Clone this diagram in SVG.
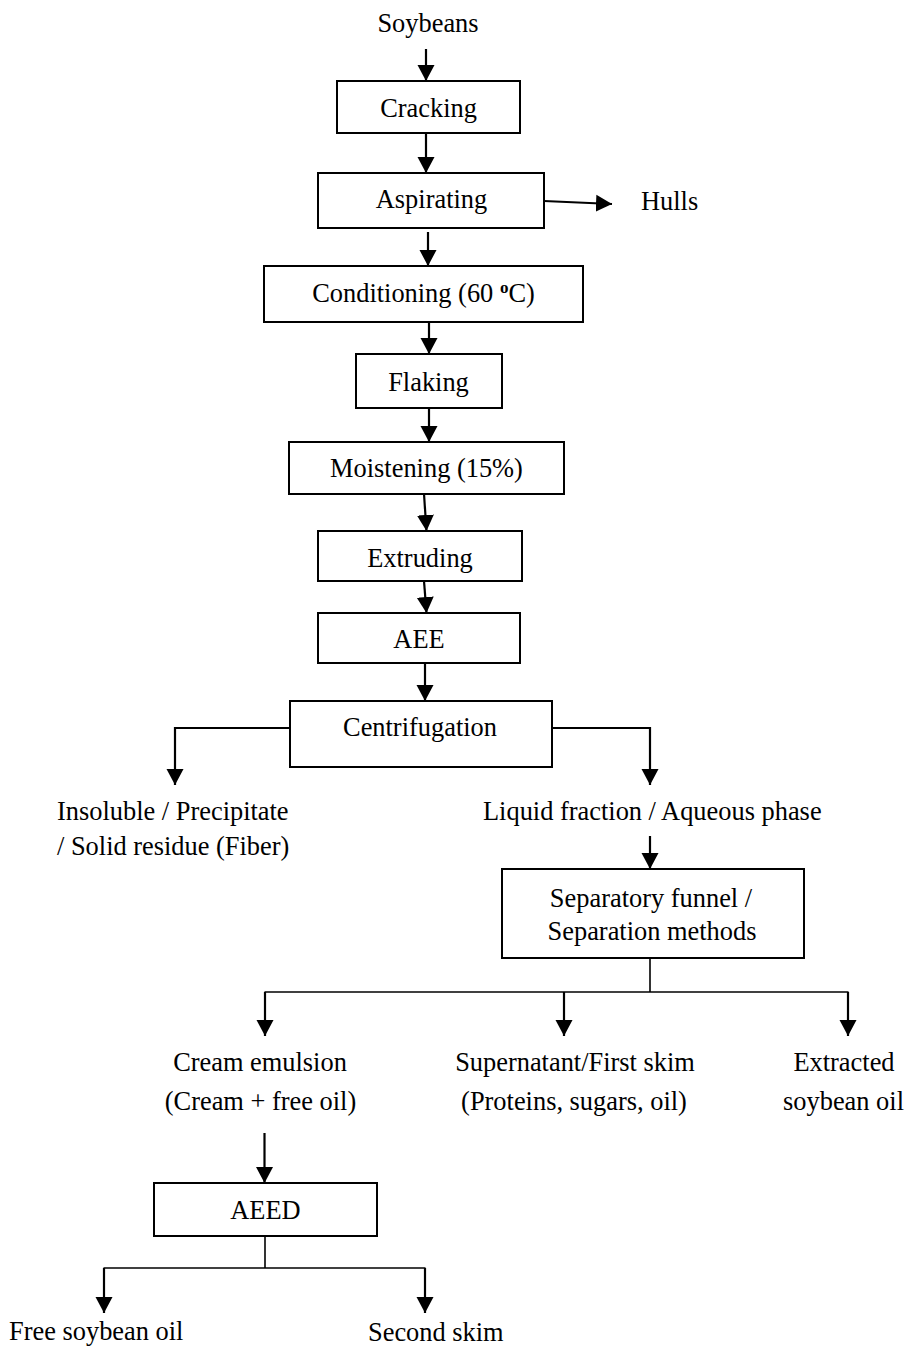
<svg xmlns="http://www.w3.org/2000/svg" width="914" height="1363" viewBox="0 0 914 1363">
<style>
  text { font-family: "Liberation Serif", "Times New Roman", serif; font-size: 26.4px; fill: #000; }
  .c { text-anchor: middle; }
  .box { fill: #fff; stroke: #000; stroke-width: 2; }
  .ln { fill: none; stroke: #000; stroke-width: 2.2; }
  .bus { fill: none; stroke: #000; stroke-width: 1.6; }
</style>
<defs>
  <marker id="ah" markerUnits="userSpaceOnUse" viewBox="0 0 18 18" refX="16" refY="9" markerWidth="18" markerHeight="18" orient="auto">
    <path d="M0,0.5 L16,9 L0,17.5 z" fill="#000"/>
  </marker>
</defs>
<rect width="914" height="1363" fill="#fff"/>

<g id="connectors">
  <line class="ln" x1="426" y1="49" x2="426" y2="81" marker-end="url(#ah)"/>
  <line class="ln" x1="426" y1="133" x2="426" y2="173" marker-end="url(#ah)"/>
  <line class="ln" x1="544" y1="201" x2="612" y2="204" marker-end="url(#ah)"/>
  <line class="ln" x1="428" y1="232" x2="428" y2="266" marker-end="url(#ah)"/>
  <line class="ln" x1="429" y1="322" x2="429" y2="354" marker-end="url(#ah)"/>
  <line class="ln" x1="429" y1="408" x2="429" y2="442" marker-end="url(#ah)"/>
  <line class="ln" x1="424" y1="494" x2="426.5" y2="531" marker-end="url(#ah)"/>
  <line class="ln" x1="424" y1="581" x2="426.5" y2="613" marker-end="url(#ah)"/>
  <line class="ln" x1="425" y1="663" x2="425" y2="701" marker-end="url(#ah)"/>
  <polyline class="ln" points="290,728 175,728 175,785" marker-end="url(#ah)"/>
  <polyline class="ln" points="552,728 650,728 650,785" marker-end="url(#ah)"/>
  <line class="ln" x1="650" y1="836" x2="650" y2="869" marker-end="url(#ah)"/>
  <line class="bus" x1="650" y1="958" x2="650" y2="992"/>
  <line class="bus" x1="264.5" y1="992" x2="848.5" y2="992"/>
  <line class="ln" x1="265" y1="992" x2="265" y2="1036" marker-end="url(#ah)"/>
  <line class="ln" x1="564" y1="992" x2="564" y2="1036" marker-end="url(#ah)"/>
  <line class="ln" x1="848" y1="992" x2="848" y2="1036" marker-end="url(#ah)"/>
  <line class="ln" x1="264.5" y1="1133" x2="264.5" y2="1183" marker-end="url(#ah)"/>
  <line class="bus" x1="265" y1="1236" x2="265" y2="1268"/>
  <line class="bus" x1="103.5" y1="1268" x2="425.5" y2="1268"/>
  <line class="ln" x1="104" y1="1268" x2="104" y2="1313" marker-end="url(#ah)"/>
  <line class="ln" x1="425" y1="1268" x2="425" y2="1313" marker-end="url(#ah)"/>
</g>

<g id="soybeans"><text class="c" x="428" y="32">Soybeans</text></g>
<g id="cracking"><rect class="box" x="337" y="81" width="183" height="52"/><text class="c" x="428.5" y="117">Cracking</text></g>
<g id="aspirating"><rect class="box" x="318" y="173" width="226" height="55"/><text class="c" x="431.5" y="208">Aspirating</text></g>
<g id="hulls"><text x="641" y="210">Hulls</text></g>
<g id="conditioning"><rect class="box" x="264" y="266" width="319" height="56"/><text class="c" x="423.5" y="302">Conditioning (60 <tspan font-size="17" font-weight="bold" dy="-9">o</tspan><tspan dy="9">C)</tspan></text></g>
<g id="flaking"><rect class="box" x="356" y="354" width="146" height="54"/><text class="c" x="428.5" y="391">Flaking</text></g>
<g id="moistening"><rect class="box" x="289" y="442" width="275" height="52"/><text class="c" x="426.5" y="477">Moistening (15%)</text></g>
<g id="extruding"><rect class="box" x="318" y="531" width="204" height="50"/><text class="c" x="420" y="567">Extruding</text></g>
<g id="aee"><rect class="box" x="318" y="613" width="202" height="50"/><text class="c" x="419" y="648">AEE</text></g>
<g id="centrifugation"><rect class="box" x="290" y="701" width="262" height="66"/><text class="c" x="420" y="736">Centrifugation</text></g>
<g id="insoluble"><text x="57" y="820">Insoluble / Precipitate</text><text x="57" y="855">/ Solid residue (Fiber)</text></g>
<g id="liquid"><text x="483" y="820">Liquid fraction / Aqueous phase</text></g>
<g id="separatory"><rect class="box" x="502" y="869" width="302" height="89"/><text class="c" x="651" y="907">Separatory funnel /</text><text class="c" x="652" y="940">Separation methods</text></g>
<g id="cream"><text class="c" x="260" y="1071">Cream emulsion</text><text class="c" x="260.5" y="1110">(Cream + free oil)</text></g>
<g id="supernatant"><text class="c" x="575" y="1071">Supernatant/First skim</text><text class="c" x="574" y="1110">(Proteins, sugars, oil)</text></g>
<g id="extracted"><text class="c" x="844" y="1071">Extracted</text><text class="c" x="843.5" y="1110">soybean oil</text></g>
<g id="aeed"><rect class="box" x="154" y="1183" width="223" height="53"/><text class="c" x="265.5" y="1219">AEED</text></g>
<g id="freeoil"><text x="9" y="1340">Free soybean oil</text></g>
<g id="secondskim"><text x="368" y="1341">Second skim</text></g>
</svg>
